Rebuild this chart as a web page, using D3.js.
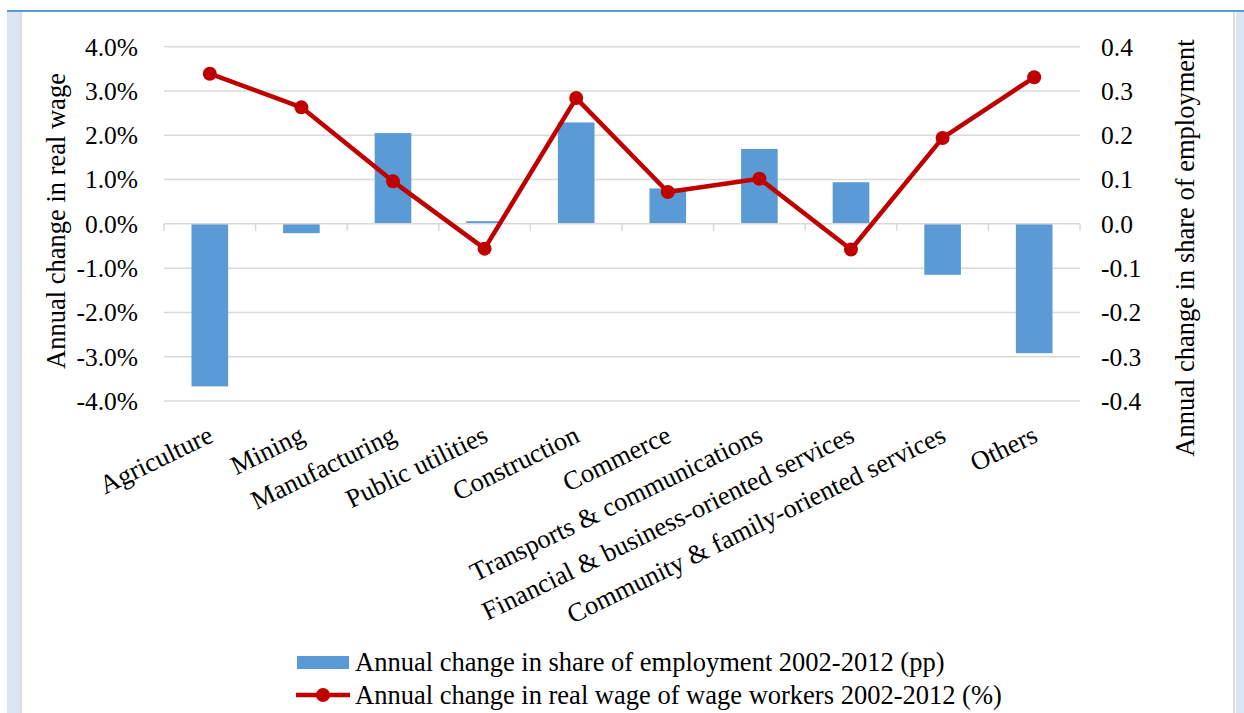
<!DOCTYPE html>
<html><head><meta charset="utf-8">
<script src="https://cdn.jsdelivr.net/npm/d3@7"></script>
<style>
html,body{margin:0;padding:0;background:#fff;}
svg text{font-family:"Liberation Serif","Times New Roman","DejaVu Serif",serif;}
</style></head>
<body>
<svg id="chart" width="1244" height="713"></svg>
<script>
const categories = ["Agriculture","Mining","Manufacturing","Public utilities","Construction","Commerce","Transports & communications","Financial & business-oriented services","Community & family-oriented services","Others"];
const employmentShare = [-0.367,-0.021,0.205,0.006,0.229,0.080,0.169,0.094,-0.115,-0.292];
const realWage = [3.39,2.63,0.96,-0.56,2.84,0.72,1.02,-0.58,1.94,3.31];
const leftTicks = [-4,-3,-2,-1,0,1,2,3,4];
const rightTicks = [-0.4,-0.3,-0.2,-0.1,0,0.1,0.2,0.3,0.4];
const legendLabels = ["Annual change in share of employment 2002-2012 (pp)","Annual change in real wage of wage workers 2002-2012 (%)"];
const leftTitle = "Annual change in real wage";
const rightTitle = "Annual change in share of employment";

const FONT = "'Liberation Serif','Times New Roman','DejaVu Serif',serif";
const svg = d3.select("#chart");
const barColor = "#5B9BD5", lineColor = "#C00000", gridColor = "#D9D9D9";
const fsTick = 25.5, fsTitle = 26.5, fsCat = 26.5, fsLeg = 26.5;

// frame
svg.append("rect").attr("x",7).attr("y",12).attr("width",13).attr("height",701).attr("fill","#DCE6F2");
svg.append("rect").attr("x",1236).attr("y",12).attr("width",8).attr("height",701).attr("fill","#DCE6F2");
svg.append("line").attr("x1",21).attr("x2",21).attr("y1",12).attr("y2",713).attr("stroke","#D0D0D0").attr("stroke-width",1.5);
svg.append("line").attr("x1",1234).attr("x2",1234).attr("y1",12).attr("y2",713).attr("stroke","#D0D0D0").attr("stroke-width",1.5);
svg.append("line").attr("x1",7).attr("x2",1244).attr("y1",11).attr("y2",11).attr("stroke","#5B9BD5").attr("stroke-width",2);

const x = d3.scaleBand().domain(categories).range([164,1080]).paddingInner(0.6).paddingOuter(0.3);
const xb = d3.scaleBand().domain(categories).range([164,1080]);
const yL = d3.scaleLinear().domain([-4,4]).range([401,46.7]);
const yR = d3.scaleLinear().domain([-0.4,0.4]).range([401,46.7]);

// gridlines
svg.append("g").selectAll("line").data(leftTicks.filter(d=>d!==0)).join("line")
  .attr("x1",164).attr("x2",1080).attr("y1",d=>yL(d)).attr("y2",d=>yL(d))
  .attr("stroke",gridColor).attr("stroke-width",1.5);

// bars
svg.append("g").selectAll("rect").data(categories).join("rect")
  .attr("x",d=>x(d)).attr("width",x.bandwidth())
  .attr("y",(d,i)=>Math.min(yR(employmentShare[i]),yR(0)))
  .attr("height",(d,i)=>Math.abs(yR(employmentShare[i])-yR(0)))
  .attr("fill",barColor);

// zero axis with ticks at category boundaries
const zy = yL(0);
svg.append("line").attr("x1",164).attr("x2",1080).attr("y1",zy).attr("y2",zy).attr("stroke",gridColor).attr("stroke-width",1.5);
const bounds = categories.map(c=>xb(c)).concat([1080]);
svg.append("g").selectAll("line").data(bounds).join("line")
  .attr("x1",d=>d).attr("x2",d=>d).attr("y1",zy).attr("y2",zy+7)
  .attr("stroke",gridColor).attr("stroke-width",1.5);

// left axis labels
svg.append("g").selectAll("text").data(leftTicks).join("text")
  .attr("x",138).attr("y",d=>yL(d)).attr("dy","0.35em").attr("text-anchor","end")
  .attr("font-family",FONT).attr("font-size",fsTick).attr("fill","#000").text(d=>d.toFixed(1)+"%");
// right axis labels
svg.append("g").selectAll("text").data(rightTicks).join("text")
  .attr("x",1101).attr("y",d=>yR(d)).attr("dy","0.35em").attr("text-anchor","start")
  .attr("font-family",FONT).attr("font-size",fsTick).attr("fill","#000").text(d=>d.toFixed(1));

// axis titles
svg.append("text").attr("transform","translate(65,221) rotate(-90)").attr("text-anchor","middle")
  .attr("font-family",FONT).attr("font-size",fsTitle).text(leftTitle);
svg.append("text").attr("transform","translate(1194,248) rotate(-90)").attr("text-anchor","middle")
  .attr("font-family",FONT).attr("font-size",fsTitle).text(rightTitle);

// x labels
svg.append("g").selectAll("text").data(categories).join("text")
  .attr("transform",d=>`translate(${xb(d)+xb.bandwidth()/2+5},441) rotate(-26)`)
  .attr("text-anchor","end").attr("font-family",FONT).attr("font-size",fsCat).text(d=>d);

// line
const line = d3.line().x((d,i)=>xb(categories[i])+xb.bandwidth()/2).y(d=>yL(d));
svg.append("path").datum(realWage).attr("d",line).attr("fill","none")
  .attr("stroke",lineColor).attr("stroke-width",4.5).attr("stroke-linejoin","round");
svg.append("g").selectAll("circle").data(realWage).join("circle")
  .attr("cx",(d,i)=>xb(categories[i])+xb.bandwidth()/2).attr("cy",d=>yL(d)).attr("r",7)
  .attr("fill",lineColor);

// legend
const lg = svg.append("g");
lg.append("rect").attr("x",297).attr("y",656).attr("width",52).attr("height",13).attr("fill",barColor);
lg.append("text").attr("x",355).attr("y",671).attr("font-family",FONT).attr("font-size",fsLeg).text(legendLabels[0]);
lg.append("line").attr("x1",296).attr("x2",350).attr("y1",695).attr("y2",695).attr("stroke",lineColor).attr("stroke-width",4.5);
lg.append("circle").attr("cx",323).attr("cy",695).attr("r",7).attr("fill",lineColor);
lg.append("text").attr("x",355).attr("y",704).attr("font-family",FONT).attr("font-size",fsLeg).text(legendLabels[1]);
</script>
</body></html>
